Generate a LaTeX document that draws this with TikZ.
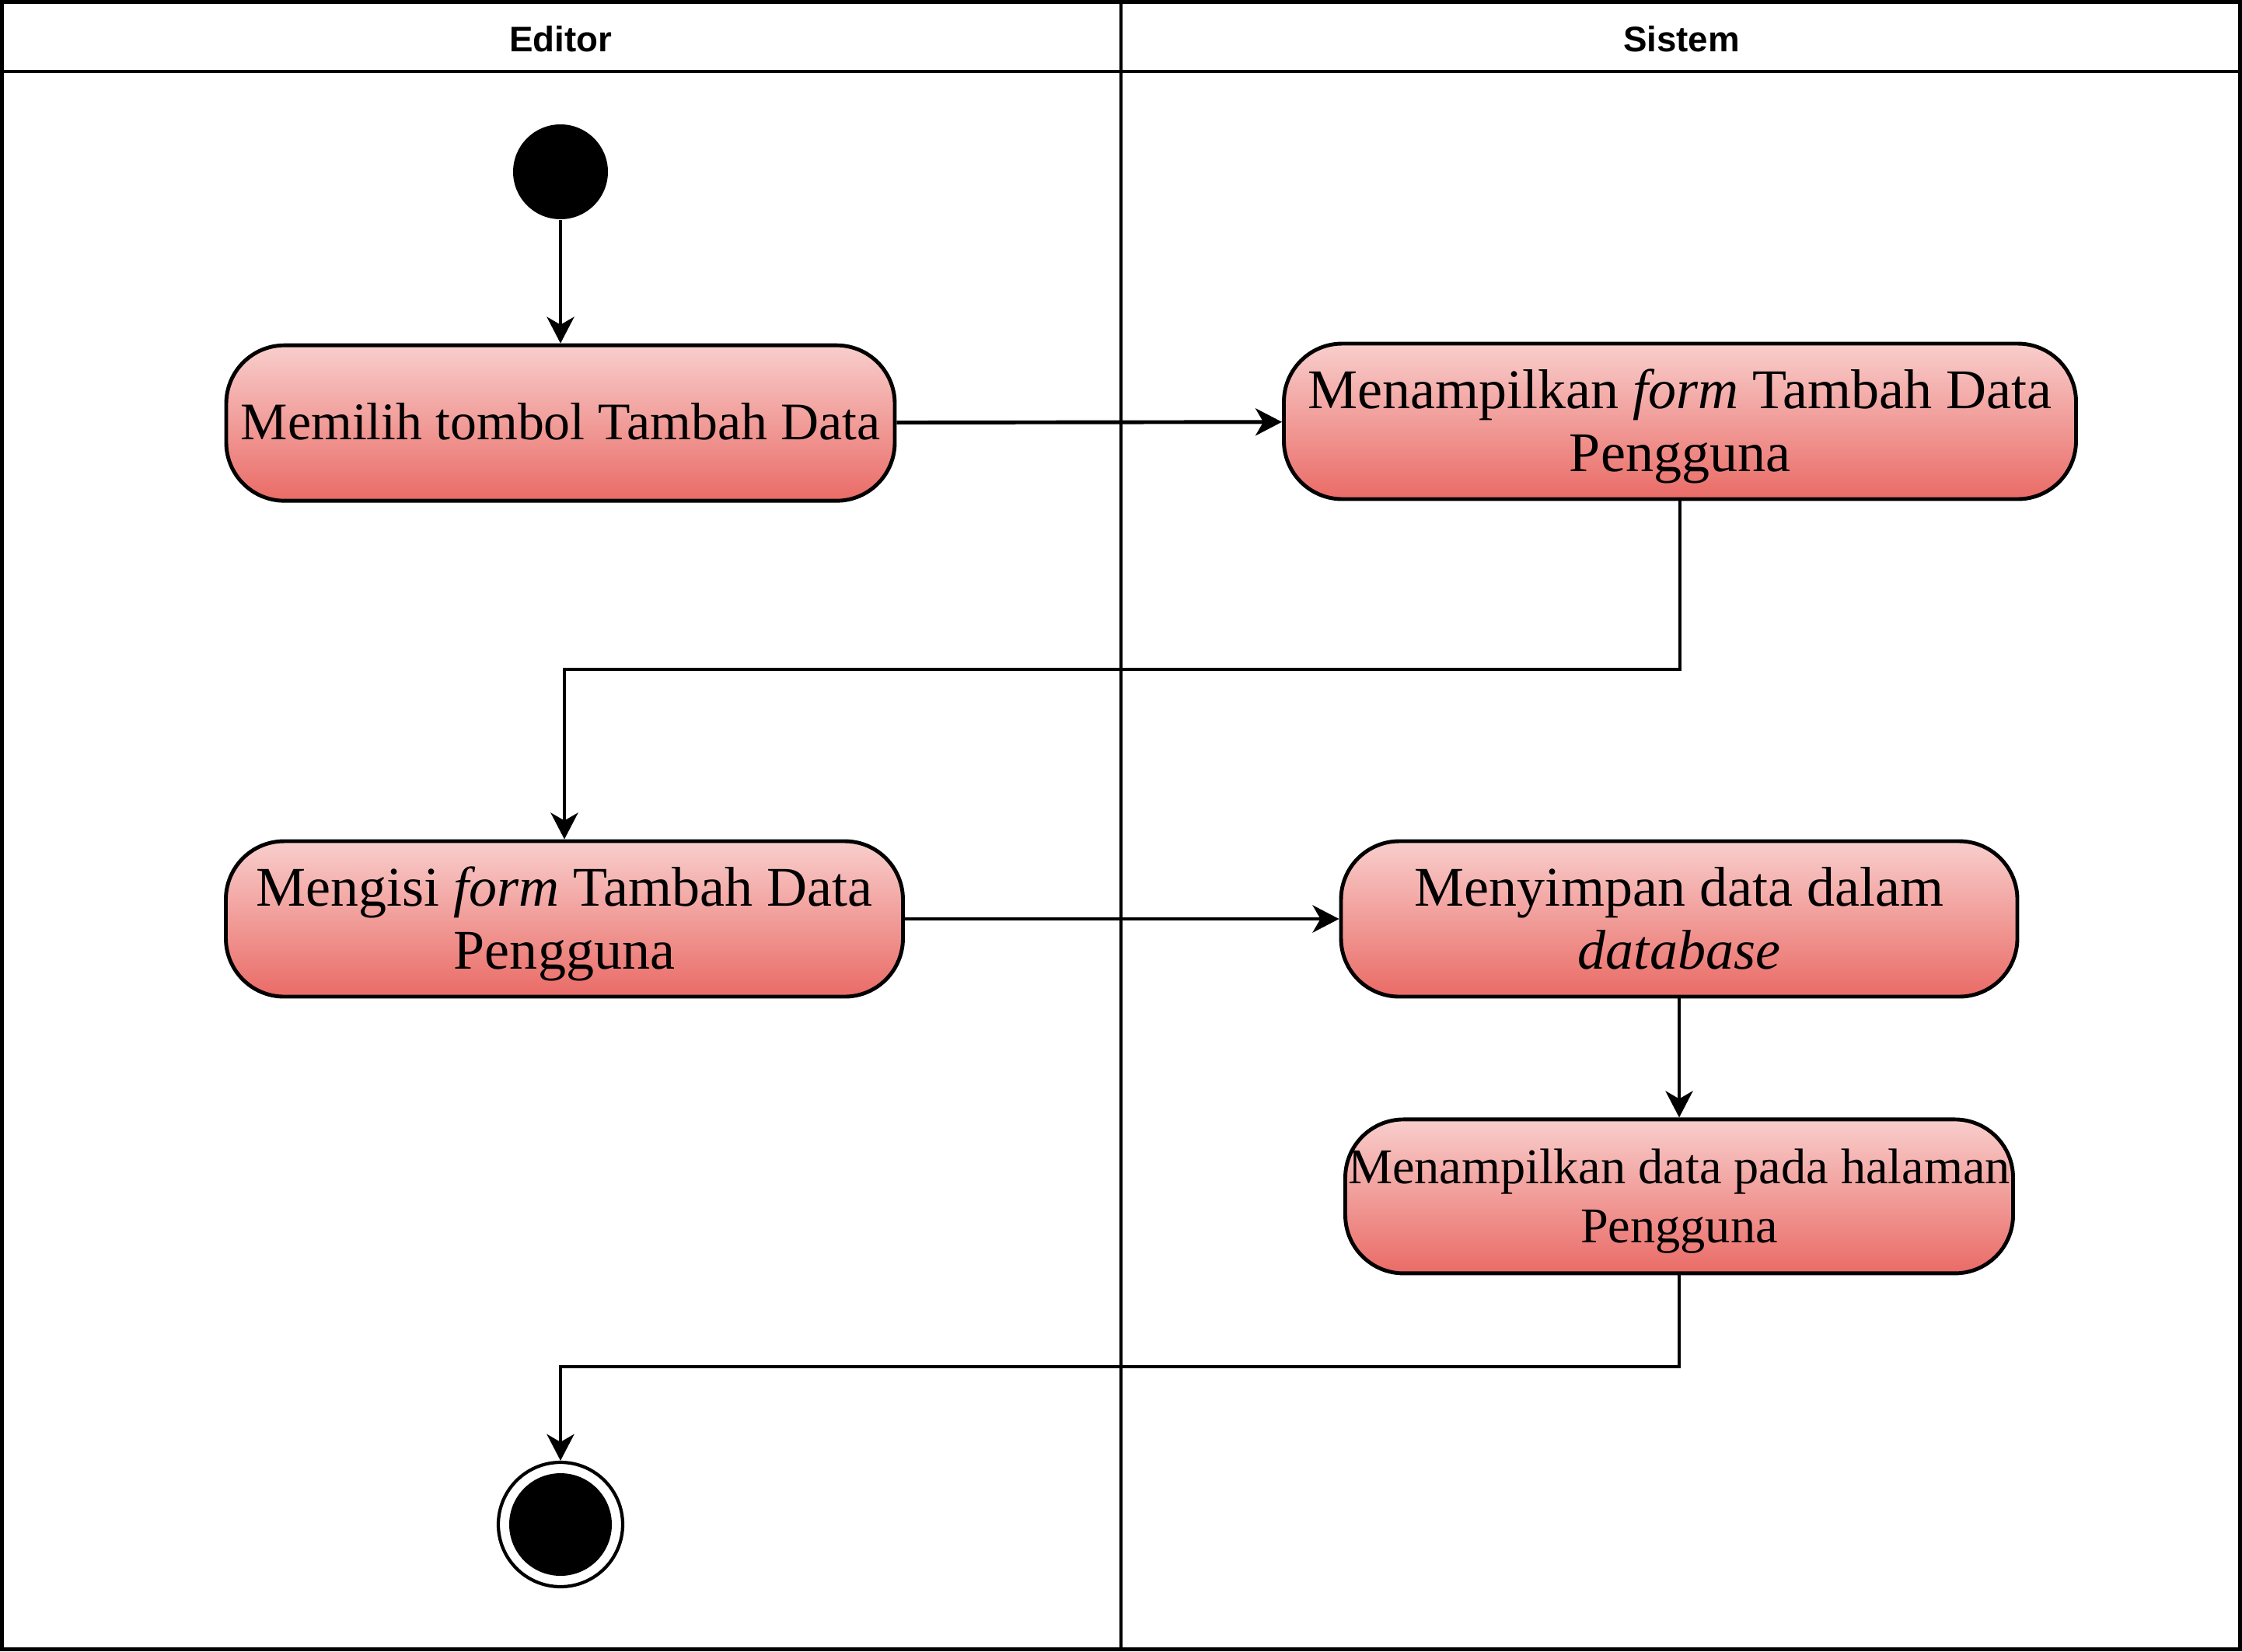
\documentclass[tikz,border=0pt]{standalone}
\usepackage{fontspec}
\setmainfont{Liberation Serif}
\newfontfamily\lanefont{Liberation Sans}
\usepackage{tikz}
\usetikzlibrary{shapes}
\usetikzlibrary{arrows.meta}
\usetikzlibrary{positioning}
\definecolor{actTop}{HTML}{F8CECC}
\definecolor{actBottom}{HTML}{EA6B66}
\tikzstyle{lane} = [line width=1.4pt]
\tikzstyle{lanetitle} = [font={\lanefont\bfseries\fontsize{13pt}{15pt}\selectfont}]
\tikzstyle{activity} = [rectangle, rounded corners=0.75cm, draw, line width=1.4pt,
        top color=actTop, bottom color=actBottom, align=center, inner sep=0pt,
        minimum height=2cm, font={\fontsize{20.5pt}{23.2pt}\selectfont},
        text height=36.9pt, text depth=0pt]
\tikzstyle{initial} = [circle, fill=black, minimum size=1.22cm, inner sep=0pt]
\tikzstyle{final} = [circle, draw, line width=1.2pt, minimum size=1.6cm, inner sep=0pt,
        path picture={\fill (path picture bounding box.center) circle (0.66cm);}]
\tikzstyle{flow} = [line width=1.4pt, -{Stealth[length=0.34cm, width=0.35cm, inset=0.1cm]}]

\begin{document}
\begin{tikzpicture}
        \useasboundingbox (0,0) rectangle (28.84,-21.24);
        % swimlanes
        \draw [lane] (0.025,-0.025) rectangle (28.815,-21.215);
        \draw [lane] (0.025,-0.92) -- (28.815,-0.92);
        \draw [lane] (14.42,-0.025) -- (14.42,-21.215);
        \node [lanetitle] (editor) at (7.21,-0.50) {Editor};
        \node [lanetitle] (sistem) at (21.63,-0.50) {Sistem};
        % activities
        \node [initial] (mulai) at (7.21,-2.21) {};
        \node [activity, minimum width=8.6cm, below=1.59cm of mulai, text height=12.4pt,
               font={\fontsize{19.3pt}{22pt}\selectfont}] (pilih) {Memilih tombol Tambah Data};
        \node [activity, minimum width=10.19cm] (form) at (21.61,-5.42) {Menampilkan \textit{form} Tambah Data\\Pengguna};
        \node [activity, minimum width=8.71cm] (isi) at (7.26,-11.82) {Mengisi \textit{form} Tambah Data\\Pengguna};
        \node [activity, minimum width=8.7cm] (simpan) at (21.60,-11.82) {Menyimpan data dalam\\\textit{database}};
        \node [activity, minimum width=8.59cm, minimum height=1.98cm, below=1.53cm of simpan, text height=34pt,
               font={\fontsize{18.3pt}{21.8pt}\selectfont}] (tampil) {Menampilkan data pada halaman\\Pengguna};
        \node [final] (selesai) at (7.21,-19.61) {};
        \coordinate (belok1) at (21.61,-8.61);
        \coordinate (belok2) at (21.60,-17.58);
        % flows
        \draw [flow] (mulai) -- (pilih);
        \draw [flow] (pilih) -- (form);
        \draw [flow] (form) -- (belok1) -| (isi);
        \draw [flow] (isi) -- (simpan);
        \draw [flow] (simpan) -- (tampil);
        \draw [flow] (tampil) -- (belok2) -| (selesai);
    \end{tikzpicture}
\end{document}
